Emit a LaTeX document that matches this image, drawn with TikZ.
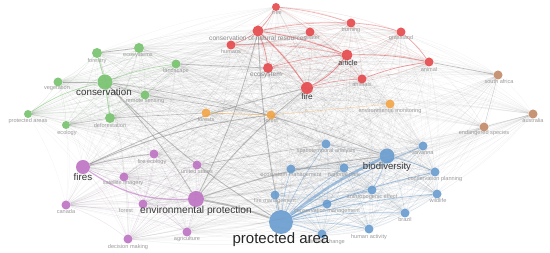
\documentclass[tikz,border=0pt]{standalone}
\usepackage{fontspec}
\setmainfont{Liberation Sans}
\pgfdeclarelayer{bg}
\pgfdeclarelayer{edges}
\pgfsetlayers{bg,edges,main}
\definecolor{cG}{RGB}{110,190,100}
\definecolor{cR}{RGB}{228,60,64}
\definecolor{cO}{RGB}{242,160,60}
\definecolor{cBr}{RGB}{190,130,95}
\definecolor{cBl}{RGB}{95,150,205}
\definecolor{cP}{RGB}{185,105,190}
\definecolor{lab}{RGB}{155,155,155}
\definecolor{big}{RGB}{55,55,55}
\begin{document}
\begin{tikzpicture}[x=1pt,y=-1pt,
  dot/.style={circle,inner sep=0pt,minimum size=#1,fill opacity=0.85,draw=none},
  lbl/.style={font=\fontsize{5.6}{6}\selectfont,text=lab,inner sep=0pt},
  biglbl/.style={font=\fontsize{#1}{#1}\selectfont,text=big,inner sep=0pt},
  haze/.style={draw=black,draw opacity=0.055,line width=0.25pt},
  clus/.style={draw=#1,draw opacity=0.14,line width=0.3pt},
  e/.style={draw=gray,draw opacity=0.5,line width=#1},
  ce/.style 2 args={draw=#1,draw opacity=0.55,line width=#2}]
\useasboundingbox (0,0) rectangle (550,253);
\begin{pgfonlayer}{bg}
\fill[white] (0,0) rectangle (550,253);
\end{pgfonlayer}
% nodes
\foreach \n/\x/\y/\d/\c in {
 forestry/97/53/10/cG, ecosystems/139/48/10/cG, landscape/176/64/9/cG,
 vegetation/58/82/9/cG, conservation/105/82/15/cG, remotesens/145/95/9/cG,
 protareas/28/114/8/cG, deforest/110/118/10/cG, ecology/66/125/8/cG,
 tree/276/7/8/cR, consnat/258/31/11/cR, water/310/32/9/cR, burning/351/23/9/cR,
 grassland/401/32/9/cR, humans/231/45/9/cR, article/347/55/11/cR,
 animal/429/62/9/cR, ecosystem/268/68/10/cR, animals/362/79/9/cR, fire/307/88/12/cR,
 forests/206/113/9/cO, forest/271/115/9/cO, envmon/390/104/9/cO,
 southafrica/498/75/9/cBr, australia/533/114/9/cBr, endangered/484/127/9/cBr,
 biodiversity/387/156/15/cBl, savanna/423/146/9/cBl, spatio/326/144/9/cBl,
 ecomgmt/291/169/9/cBl, natpark/344/168/9/cBl, consplan/435/172/9/cBl,
 anthro/372/190/9/cBl, wildlife/437/194/9/cBl, firemgmt/275/195/9/cBl,
 consmgmt/327/204/9/cBl, brazil/405/213/9/cBl, protarea/281/222/24/cBl,
 humanact/369/229/9/cBl, climate/322/234/9/cBl,
 fires/83/167/14/cP, fireeco/154/154/9/cP, usa/197/165/9/cP, satimg/124/177/9/cP,
 envprot/196/199/16/cP, canada/66/205/9/cP, forestfire/143/204/9/cP,
 agri/187/232/9/cP, decision/128/239/9/cP}
 {\node[dot=\d pt,fill=\c] (\n) at (\x,\y) {};}
% small labels
\foreach \n/\x/\y/\t in {
 forestry/97/61/forestry, ecosystems/138/55/ecosystems, landscape/176/71/landscape,
 vegetation/57/88/vegetation, remotesens/145/101/remote sensing,
 protareas/28/121/protected areas, ecology/67/133/ecology, deforest/110/126/deforestation,
 tree/277/13/tree, water/313/38/water, burning/351/30/burning,
 grassland/401/38/grassland, humans/231/52/humans, animal/429/70/animal,
 animals/362/85/animals,
 forests/206/120/forests, forest/271/121/forest, envmon/390/111/environmental monitoring,
 southafrica/499/82/south africa, australia/533/121/australia,
 endangered/484/133/endangered species,
 savanna/423/153/savanna, spatio/326/151/spatiotemporal analysis,
 ecomgmt/291/175/ecosystem management, natpark/344/175/national park,
 consplan/435/179/conservation planning, anthro/372/197/anthropogenic effect,
 wildlife/438/201/wildlife, firemgmt/275/201/fire management,
 consmgmt/327/211/conservation management, brazil/405/220/brazil,
 humanact/369/237/human activity, climate/326/242/climate change,
 fireeco/152/162/fire ecology, usa/197/172/united states,
 satimg/123/183/satellite imagery, canada/66/212/canada,
 forestfire/126/211/forest, agri/187/239/agriculture, decision/128/247/decision making}
 {\node[lbl] (l\n) at (\x,\y) {\t};}
\node[lbl,font=\fontsize{6.6}{7}\selectfont,text=gray!90] (lconsnat) at (258,38) {conservation of natural resources};
\node[lbl,font=\fontsize{6.6}{7}\selectfont,text=gray!95] (lecosystem) at (266,75) {ecosystem};
\node[biglbl=7.2] (larticle) at (348,63) {article};
\node[biglbl=8.2] (lfire) at (307,97) {fire};
\node[biglbl=9.8] (lconservation) at (104,92) {conservation};
\node[biglbl=9.8] (lfires) at (83,177) {fires};
\node[biglbl=9.6] (lbiodiversity) at (387,167) {biodiversity};
\node[biglbl=10.2] (lenvprot) at (196,211) {environmental protection};
\node[biglbl=15,text=black!85] (lprotarea) at (281,240) {protected area};
\def\allnodes{forestry,ecosystems,landscape,vegetation,conservation,remotesens,protareas,deforest,ecology,tree,consnat,water,burning,grassland,humans,article,animal,ecosystem,animals,fire,forests,forest,envmon,southafrica,australia,endangered,biodiversity,savanna,spatio,ecomgmt,natpark,consplan,anthro,wildlife,firemgmt,consmgmt,brazil,protarea,humanact,climate,fires,fireeco,usa,satimg,envprot,canada,forestfire,agri,decision}
\begin{pgfonlayer}{edges}
\foreach \a [count=\i] in \allnodes {
  \foreach \b [count=\j] in \allnodes {
    \ifnum\j>\i \draw[haze] (\a) to[bend left=8] (\b); \fi
  }
}
\foreach \col/\lst in {cG/{forestry,ecosystems,landscape,vegetation,conservation,remotesens,protareas,deforest,ecology},
  cR/{tree,consnat,water,burning,grassland,humans,article,animal,ecosystem,animals,fire},
  cBl/{biodiversity,savanna,spatio,ecomgmt,natpark,consplan,anthro,wildlife,firemgmt,consmgmt,brazil,protarea,humanact,climate},
  cP/{fires,fireeco,usa,satimg,envprot,canada,forestfire,agri,decision}} {
  \foreach \a [count=\i] in \lst {
    \foreach \b [count=\j] in \lst {
      \ifnum\j>\i \draw[clus=\col] (\a) to[bend left=8] (\b); \fi
    }
  }
}
% prominent links
\draw[ce={cBl}{2.6}] (protarea) to[bend left=6] (biodiversity);
\foreach \b/\w in {savanna/0.8,consplan/0.7,wildlife/0.7,brazil/0.6,anthro/0.8,natpark/0.6,firemgmt/0.6,consmgmt/0.6,humanact/0.5,climate/0.5,ecomgmt/0.5,spatio/0.5}
  {\draw[ce={cBl}{\w}] (protarea) to[bend left=5] (\b);}
\draw[ce={cBl}{0.5}] (biodiversity) to[bend left=5] (anthro);
\draw[ce={cBl}{0.5}] (biodiversity) to[bend left=5] (consplan);
\draw[e=1.8] (envprot) to[bend left=5] (protarea);
\draw[ce={cP}{1.2}] (fires) to[bend right=18] (envprot);
\draw[e=1] (fires) to[bend left=4] (fireeco);
\draw[e=0.9] (fires) to[bend left=8] (forest);
\draw[e=1] (envprot) to[bend left=6] (biodiversity);
\draw[e=0.8] (envprot) to[bend left=6] (fire);
\draw[e=0.8] (envprot) to[bend right=6] (consnat);
\draw[e=0.8] (conservation) to[bend left=6] (envprot);
\draw[e=0.8] (conservation) to[bend right=6] (protarea);
\draw[e=0.6] (conservation) to[bend left=6] (biodiversity);
\draw[e=0.8] (fire) to[bend right=6] (fires);
\draw[e=0.9] (consnat) to[bend right=4] (protarea);
\draw[ce={cG}{0.8}] (conservation) to (forestry);
\draw[ce={cG}{0.9}] (conservation) to (deforest);
\draw[ce={cG}{0.6}] (conservation) to[bend left=6] (landscape);
\draw[ce={cG}{0.6}] (conservation) to[bend right=10] (protareas);
\draw[e=0.8] (vegetation) to (conservation);
\draw[e=0.6] (conservation) to (remotesens);
\draw[e=0.8] (forestry) to (ecosystems);
\draw[e=0.6] (deforest) to (forests);
\draw[e=0.5] (ecology) to (deforest);
\draw[e=0.6] (landscape) to (ecosystem);
\draw[e=0.6] (remotesens) to (forest);
\foreach \a/\b/\w in {consnat/fire/0.9,consnat/article/0.8,consnat/ecosystem/0.6,consnat/burning/0.5,consnat/humans/0.5,article/animal/0.6,animals/animal/0.6,fire/animals/0.5,ecosystem/article/0.5,tree/burning/0.4,burning/grassland/0.4,tree/consnat/0.4,grassland/animal/0.4,humans/article/0.4}
  {\draw[ce={cR}{\w}] (\a) to[bend left=6] (\b);}
\draw[ce={cR}{0.8}] (fire) to[bend right=12] (article);
\draw[ce={cO}{0.7}] (forests) to (forest);
\draw[ce={cO}{0.4}] (forest) to (envmon);
\draw[e=0.6] (southafrica) to (animal);
\draw[e=0.3] (southafrica) to (endangered);
\draw[e=0.3] (australia) to (endangered);
\draw[e=0.5] (spatio) to (biodiversity);
\draw[e=0.5] (ecomgmt) to (natpark);
\draw[e=0.5] (usa) to (spatio);
\end{pgfonlayer}
\end{tikzpicture}
\end{document}
